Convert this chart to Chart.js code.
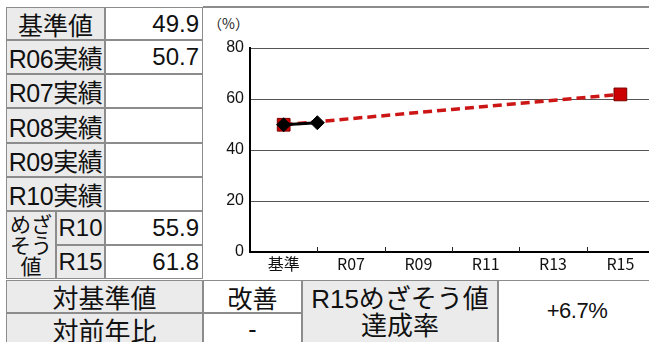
<!DOCTYPE html>
<html lang="ja">
<head>
<meta charset="utf-8">
<script src="https://cdn.jsdelivr.net/npm/chart.js@4.4.1/dist/chart.umd.min.js"></script>
<style>
  html, body { margin: 0; padding: 0; background: #fff; }
  #page { position: relative; width: 649px; height: 342px; overflow: hidden; }
  .cell {
    position: absolute; box-sizing: border-box; border: 1px solid #8c8c8c;
    display: flex; align-items: center; justify-content: center;
    font-family: "Liberation Sans", "Noto Sans CJK JP", sans-serif; color: #111;
    white-space: nowrap; overflow: hidden;
  }
  .head { background: #ebebeb; }
  .num { justify-content: flex-end; padding-right: 3px; }
  #panel { position: absolute; left: 203px; top: 6px; width: 446px; height: 274px;
           border-top: 2px solid #8c8c8c; box-sizing: border-box; }
  #unit { position: absolute; left: 208px; top: 13px; font: 14px "Noto Sans CJK JP"; color: #222; }
  #c { position: absolute; left: 204px; top: 8px; }
</style>
</head>
<body>
<div id="page">
  <div id="panel"></div>
  <div id="unit">（%）</div>
  <canvas id="c" width="445" height="272"></canvas>
</div>
<script>
// Years on the horizontal axis
const categories = ['基準', 'R06', 'R07', 'R08', 'R09', 'R10', 'R11', 'R12', 'R13', 'R14', 'R15'];
// Baseline and yearly results (%)
const baseValue = 49.9;
const resultYears = ['R06', 'R07', 'R08', 'R09', 'R10'];
const resultValues = [50.7, null, null, null, null];
// Goal values (%)
const goalYears = ['R10', 'R15'];
const goalValues = [55.9, 61.8];
// Y axis ticks
const yTicks = [0, 20, 40, 60, 80];
// Evaluation texts
const evalLabels = ['対基準値', '対前年比'];
const evalValues = ['改善', '-'];

// Series built on the category positions
const actualSeries = categories.map((c, i) => {
  if (i === 0) return baseValue;
  const k = resultYears.indexOf(c);
  return k >= 0 ? resultValues[k] : null;
});
const goalSeries = categories.map((c, i) => {
  if (i === 0) return baseValue;
  const k = goalYears.indexOf(c);
  return k >= 0 ? goalValues[k] : null;
});
const toPoints = arr => arr.map((v, i) => ({ x: i, y: v }));

// ---- tables ----
const page = document.getElementById('page');
function cell(x1, y1, x2, y2, html, cls, style) {
  const d = document.createElement('div');
  d.className = 'cell ' + (cls || '');
  d.style.left = x1 + 'px'; d.style.top = y1 + 'px';
  d.style.width = (x2 - x1) + 'px'; d.style.height = (y2 - y1) + 'px';
  if (style) Object.assign(d.style, style);
  d.innerHTML = html;
  page.appendChild(d);
  return d;
}
const rowY = [7, 40, 74, 108, 143, 177, 211, 245, 279];
const fmt = v => (v === null || v === undefined) ? '' : v.toFixed(1);
cell(6, rowY[0], 105, rowY[1], '基準値', 'head', { fontSize: '25px' });
cell(105, rowY[0], 203, rowY[1], fmt(baseValue), 'num', { fontSize: '24px' });
resultYears.forEach((y, i) => {
  cell(6, rowY[i + 1], 105, rowY[i + 2], y + '実績', 'head', { fontSize: '25px', letterSpacing: '-0.5px' });
  cell(105, rowY[i + 1], 203, rowY[i + 2], fmt(resultValues[i]), 'num', { fontSize: '24px' });
});
cell(6, rowY[6], 56, rowY[8], '<div style="text-align:center;line-height:21px">めざ<br>そう<br>値</div>', 'head', { fontSize: '21px' });
goalYears.forEach((y, i) => {
  cell(56, rowY[6 + i], 105, rowY[7 + i], y, 'head', { fontSize: '24px' });
  cell(105, rowY[6 + i], 203, rowY[7 + i], fmt(goalValues[i]), 'num', { fontSize: '24px' });
});

// bottom table
const bY = [280, 313, 346];
evalLabels.forEach((t, i) => {
  cell(6, bY[i], 203, bY[i + 1], t, 'head', { fontSize: '26px' });
  cell(203, bY[i], 302, bY[i + 1], evalValues[i], '', { fontSize: '25px' });
});
const lastResult = resultValues.filter(v => v !== null).slice(-1)[0];
const finalGoal = goalValues[goalValues.length - 1];
const rate = (lastResult - baseValue) / (finalGoal - baseValue) * 100;
cell(302, bY[0], 498, bY[2], '<div style="text-align:center;line-height:27px">' +
  goalYears[goalYears.length - 1] + 'めざそう値<br>達成率</div>', 'head', { fontSize: '26px' });
cell(498, bY[0], 660, bY[2], (rate >= 0 ? '+' : '') + rate.toFixed(1) + '%', '',
  { fontSize: '22px', fontFamily: '"Liberation Sans Narrow", "Liberation Sans", sans-serif', paddingRight: '4px', paddingBottom: '4px', letterSpacing: '-0.5px' });

// ---- chart ----
// short inward tick marks on the x axis between labelled years
const innerTicks = {
  id: 'innerTicks',
  afterDatasetsDraw(chart) {
    const xs = chart.scales.x, ctx = chart.ctx, bottom = chart.chartArea.bottom;
    ctx.save();
    ctx.strokeStyle = '#222';
    ctx.lineWidth = 1;
    categories.forEach((c, i) => {
      if (i % 2 === 1) {
        const px = Math.round(xs.getPixelForValue(i)) + 0.5;
        ctx.beginPath(); ctx.moveTo(px, bottom - 5); ctx.lineTo(px, bottom); ctx.stroke();
      }
    });
    ctx.restore();
  }
};

new Chart(document.getElementById('c'), {
  type: 'line',
  data: {
    datasets: [
      {
        label: '実績',
        data: toPoints(actualSeries),
        borderColor: '#000',
        backgroundColor: '#000',
        borderWidth: 3,
        pointStyle: 'rectRot',
        pointRadius: 7,
        pointBorderWidth: 1,
        spanGaps: false
      },
      {
        label: 'めざそう値',
        data: toPoints(goalSeries),
        borderColor: '#cc1515',
        backgroundColor: '#cc0000',
        borderWidth: 3.5,
        borderDash: [9, 5],
        pointStyle: 'rect',
        pointRadius: ctx => (ctx.dataIndex === 0 || ctx.dataIndex === categories.length - 1) ? 9 : 0,
        pointBorderColor: '#7a0000',
        pointBorderWidth: 1,
        spanGaps: true
      }
    ]
  },
  options: {
    responsive: false,
    animation: false,
    devicePixelRatio: 1,
    layout: { autoPadding: false, padding: { top: 40, left: 0, right: 0, bottom: 0 } },
    plugins: { legend: { display: false }, tooltip: { enabled: false } },
    scales: {
      x: {
        type: 'linear',
        min: -1,
        max: 10.85,
        afterBuildTicks: s => { s.ticks = categories.map((c, i) => ({ value: i })); },
        afterFit: s => { s.height = 28; s.paddingLeft = 0; s.paddingRight = 0; },
        grid: { display: false, drawTicks: false },
        border: { display: true, color: '#000', width: 2 },
        ticks: {
          autoSkip: false,
          maxRotation: 0,
          padding: 2,
          color: '#111',
          font: { family: '"Noto Sans CJK JP"', size: 16 },
          callback: v => (v % 2 === 0 ? categories[v] : '')
        }
      },
      y: {
        min: 0,
        max: 80,
        afterBuildTicks: s => { s.ticks = yTicks.map(v => ({ value: v })); },
        afterFit: s => { s.width = 46; },
        grid: { color: '#555', lineWidth: 1, drawTicks: false },
        border: { display: true, color: '#000', width: 2 },
        ticks: {
          padding: 6,
          color: '#111',
          font: { family: '"Liberation Sans"', size: 16 }
        }
      }
    }
  },
  plugins: [innerTicks]
});
</script>
</body>
</html>
